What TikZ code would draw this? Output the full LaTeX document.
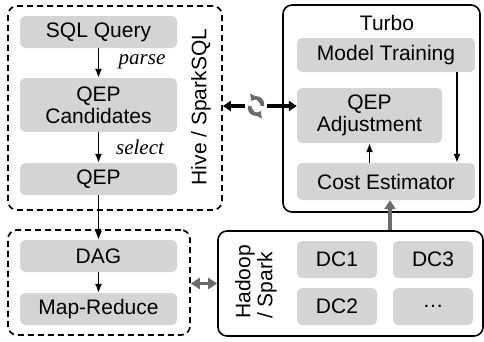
\documentclass[tikz,border=0pt]{standalone}
\usepackage{fontspec}
\setmainfont{Liberation Sans}
\newfontfamily\opfont{Liberation Serif}
\usetikzlibrary{shapes,arrows,arrows.meta,fit,positioning,calc}
\definecolor{boxgray}{rgb}{.83,.83,.83}
\definecolor{linkgray}{rgb}{.42,.42,.42}

\begin{document}
\begin{tikzpicture}[x=1pt,y=-1pt,% pixel-like units, y grows downwards
			every node/.style={
				align=center,	% so that "\\" breaks lines
				inner sep=0pt,
				font=\fontsize{21}{22}\selectfont
			},
			opbox/.style={rectangle,rounded corners=5pt,fill=boxgray,minimum width=157pt,minimum height=32pt},
			dcbox/.style={rectangle,rounded corners=5pt,fill=boxgray,minimum width=80pt,minimum height=37pt},
			dashbox/.style={rectangle,rounded corners=9pt,draw,dash pattern=on 6pt off 4pt,line width=1.7pt},
			solidbox/.style={rectangle,rounded corners=9pt,draw,line width=1.6pt},
			flow/.style={-{Latex[length=9pt,width=7pt]},line width=1.4pt},
			bigflow/.style={-{Triangle[length=9pt,width=11pt]},line width=3.2pt,draw=linkgray,fill=linkgray},
			swapflow/.style={-{Triangle[length=8pt,width=10pt]},line width=3.2pt},
			syncflow/.style={-{Triangle[length=6pt,width=9pt]},line width=3.5pt,draw=linkgray,fill=linkgray}
		]
		\useasboundingbox (0,0) rectangle (484,341);
		% containers
		\node[dashbox,minimum width=214pt,minimum height=204pt](Hive) at (115,108){};
		\node[dashbox,minimum width=182pt,minimum height=105pt](Exec) at (99,282.5){};
		\node[solidbox,minimum width=197pt,minimum height=207pt](Turbo) at (381.5,108.5){};
		\node[solidbox,minimum width=265pt,minimum height=105pt](Hadoop) at (350.5,283.5){};
		\node[rotate=90](HiveLbl) at (201,107){Hive / SparkSQL};
		\node(TurboLbl) at (387,23){Turbo};
		\node[rotate=90,align=left](HadoopLbl) at (256,282){Hadoop\\/ Spark};
		% query side
		\node[opbox](SQL) at (98.5,32){SQL Query};
		\node[opbox,minimum height=54pt](Cand) at (98.5,105){QEP\\Candidates};
		\node[opbox](QEP) at (98.5,179){QEP};
		\node(Parse) at (142,62){\opfont\itshape parse};
		\node(Select) at (140,147){\opfont\itshape select};
		\node[opbox](DAG) at (98.5,256){DAG};
		\node[opbox](MR) at (98.5,309){Map-Reduce};
		% turbo side
		\node[opbox,minimum width=178pt,minimum height=34pt](MT) at (386,55){Model Training};
		\node[opbox,minimum width=145pt,minimum height=55pt](Adj) at (369.5,115.5){QEP\\Adjustment};
		\node[opbox,minimum width=178pt,minimum height=37pt](CE) at (386,181.5){Cost Estimator};
		% data centres
		\node[dcbox](DC1) at (337,259.5){DC1};
		\node[dcbox](DC3) at (433,259.5){DC3};
		\node[dcbox](DC2) at (337,306.5){DC2};
		\node[dcbox](DCn) at (433,306.5){\dots};
		\node[minimum size=22pt](Sync) at (256,106){};
		% connectors
		\draw[flow] (SQL) -- (Cand);
		\draw[flow] (Cand) -- (QEP);
		\draw[flow] (QEP) -- (DAG);
		\draw[flow] (DAG) -- (MR);
		\draw[flow] ([xshift=71pt]MT.south) -- ([xshift=71pt]CE.north);
		\draw[flow] (CE.north -| Adj.south) -- (Adj.south);
		\draw[bigflow] ([xshift=4pt]CE.south |- Hadoop.north) -- ([xshift=4pt]CE.south);
		\draw[{Triangle[length=9pt,width=11pt]}-{Triangle[length=9pt,width=11pt]},line width=3.2pt,draw=linkgray,fill=linkgray] (Exec.east |- Hadoop.west) -- (Hadoop.west);
		\draw[swapflow] (Sync.west) -- (Sync -| Hive.east);
		\draw[swapflow] (Sync.east) -- (Sync -| Adj.west);
		\draw[syncflow] ([shift={(6pt,0pt)}]Sync.center) arc (-20:150:6pt);
		\draw[syncflow] ([shift={(-6pt,0pt)}]Sync.center) arc (160:330:6pt);
	\end{tikzpicture}
\end{document}
